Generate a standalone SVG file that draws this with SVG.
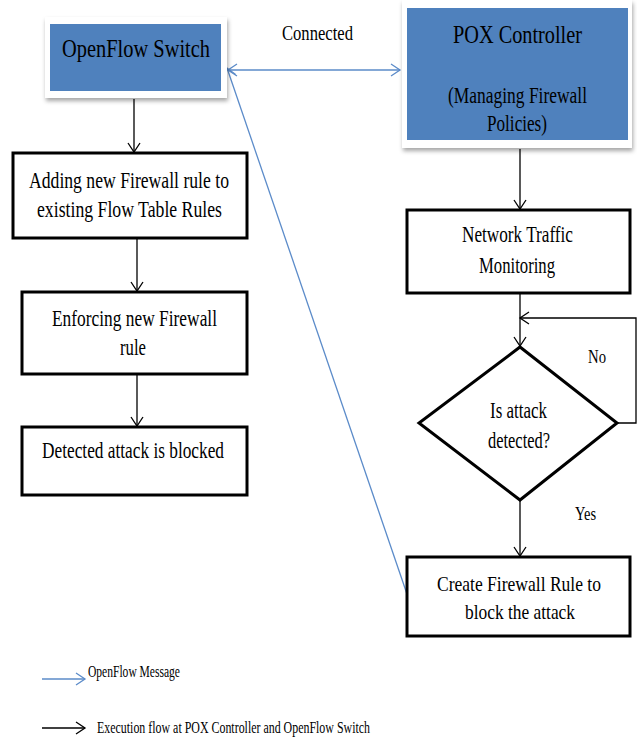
<svg xmlns="http://www.w3.org/2000/svg" width="637" height="738" viewBox="0 0 637 738" font-family="'Liberation Serif', serif">
<style>
text{font-family:'Liberation Serif',serif;fill:#000}
.box{fill:#fff;stroke:#000;stroke-width:3}
.blue{fill:#4F81BD}
.card{fill:#fff}
.flow{stroke:#000;stroke-width:1.3;fill:none}
.msg{stroke:#5B8BC9;stroke-width:1.3;fill:none}
</style>
<defs>
<filter id="sh" x="-10%" y="-10%" width="125%" height="130%">
<feDropShadow dx="1" dy="3" stdDeviation="2" flood-color="#000" flood-opacity="0.35"/>
</filter>
<marker id="ab" markerWidth="12" markerHeight="14" refX="10" refY="7" orient="auto" markerUnits="userSpaceOnUse">
<path d="M1,1 L10,7 L1,13" fill="none" stroke="#000" stroke-width="1.3"/>
</marker>
<marker id="au" markerWidth="12" markerHeight="14" refX="10" refY="7" orient="auto" markerUnits="userSpaceOnUse">
<path d="M1,1 L10,7 L1,13" fill="none" stroke="#5B8BC9" stroke-width="1.3"/>
</marker>
<marker id="aus" markerWidth="12" markerHeight="14" refX="2" refY="7" orient="auto" markerUnits="userSpaceOnUse">
<path d="M11,1 L2,7 L11,13" fill="none" stroke="#5B8BC9" stroke-width="1.3"/>
</marker>
</defs>

<g id="connectors">
<line class="flow" x1="134" y1="99" x2="134" y2="152" marker-end="url(#ab)"/>
<line class="flow" x1="137" y1="239" x2="137" y2="291" marker-end="url(#ab)"/>
<line class="flow" x1="137" y1="375" x2="137" y2="426" marker-end="url(#ab)"/>
<line class="flow" x1="520" y1="149" x2="520" y2="209" marker-end="url(#ab)"/>
<line class="flow" x1="520" y1="294" x2="520" y2="346" marker-end="url(#ab)"/>
<polyline class="flow" points="617,423 636,423 636,318 520,318" marker-end="url(#ab)"/>
<line class="flow" x1="520" y1="500" x2="520" y2="556" marker-end="url(#ab)"/>
<line class="msg" x1="228" y1="70" x2="400" y2="70" marker-start="url(#aus)" marker-end="url(#au)"/>
<line class="msg" x1="408" y1="597" x2="227" y2="68" marker-end="url(#au)"/>
<text x="282" y="40" font-size="20" textLength="71" lengthAdjust="spacingAndGlyphs">Connected</text>
<text x="588" y="363" font-size="18" textLength="18" lengthAdjust="spacingAndGlyphs">No</text>
<text x="575" y="520" font-size="18" textLength="21" lengthAdjust="spacingAndGlyphs">Yes</text>
</g>

<g id="openflow-switch">
<rect class="card" x="45" y="17" width="182" height="81" filter="url(#sh)"/>
<rect class="blue" x="50" y="24" width="171" height="67"/>
<text x="62" y="57" font-size="25" textLength="148" lengthAdjust="spacingAndGlyphs">OpenFlow Switch</text>
</g>

<g id="pox-controller">
<rect class="card" x="402" y="0" width="230" height="148" filter="url(#sh)"/>
<rect class="blue" x="407" y="8" width="221" height="132"/>
<text x="453" y="43" font-size="26" textLength="129" lengthAdjust="spacingAndGlyphs">POX Controller</text>
<text x="448" y="103" font-size="23" textLength="139" lengthAdjust="spacingAndGlyphs">(Managing  Firewall</text>
<text x="487" y="131" font-size="23" textLength="60" lengthAdjust="spacingAndGlyphs">Policies)</text>
</g>

<g id="add-rule">
<rect class="box" x="13" y="153" width="234" height="85"/>
<text x="29" y="188" font-size="23" textLength="200" lengthAdjust="spacingAndGlyphs">Adding new Firewall rule to</text>
<text x="37" y="217" font-size="23" textLength="185" lengthAdjust="spacingAndGlyphs">existing  Flow  Table Rules</text>
</g>

<g id="enforce-rule">
<rect class="box" x="22" y="292" width="225" height="82"/>
<text x="52" y="326" font-size="23" textLength="165" lengthAdjust="spacingAndGlyphs">Enforcing  new Firewall</text>
<text x="120" y="355" font-size="23" textLength="26" lengthAdjust="spacingAndGlyphs">rule</text>
</g>

<g id="blocked">
<rect class="box" x="22" y="427" width="225" height="68"/>
<text x="42" y="458" font-size="23" textLength="182" lengthAdjust="spacingAndGlyphs">Detected  attack  is blocked</text>
</g>

<g id="traffic-monitoring">
<rect class="box" x="407" y="210" width="223" height="83"/>
<text x="462" y="242" font-size="23" textLength="111" lengthAdjust="spacingAndGlyphs">Network Traffic</text>
<text x="479" y="273" font-size="23" textLength="76" lengthAdjust="spacingAndGlyphs">Monitoring</text>
</g>

<g id="attack-decision">
<polygon points="520,347 617,423 520,500 419,423" fill="#fff" stroke="#000" stroke-width="3"/>
<text x="490" y="418" font-size="23" textLength="57" lengthAdjust="spacingAndGlyphs">Is attack</text>
<text x="488" y="448" font-size="23" textLength="62" lengthAdjust="spacingAndGlyphs">detected?</text>
</g>

<g id="create-rule">
<rect class="box" x="407" y="557" width="223" height="79"/>
<text x="437" y="591" font-size="22" textLength="164" lengthAdjust="spacingAndGlyphs">Create Firewall  Rule to</text>
<text x="465" y="619" font-size="22" textLength="110" lengthAdjust="spacingAndGlyphs">block  the attack</text>
</g>

<g id="legend">
<line class="msg" x1="42" y1="679" x2="85" y2="679" marker-end="url(#au)"/>
<text x="88" y="677" font-size="16" textLength="92" lengthAdjust="spacingAndGlyphs">OpenFlow Message</text>
<line class="flow" x1="42" y1="728" x2="85" y2="728" marker-end="url(#ab)"/>
<text x="97" y="733" font-size="17" textLength="273" lengthAdjust="spacingAndGlyphs">Execution flow at POX Controller and OpenFlow Switch</text>
</g>
</svg>
